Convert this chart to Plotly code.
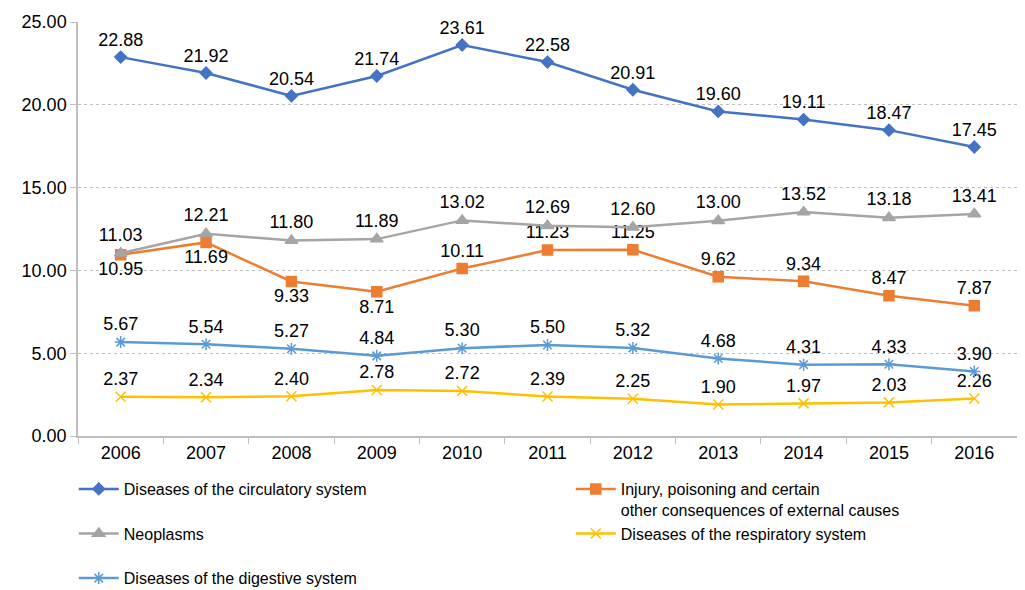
import plotly.graph_objects as go

years = ["2006", "2007", "2008", "2009", "2010", "2011", "2012", "2013", "2014", "2015", "2016"]

circulatory = [22.88, 21.92, 20.54, 21.74, 23.61, 22.58, 20.91, 19.60, 19.11, 18.47, 17.45]
injury = [10.95, 11.69, 9.33, 8.71, 10.11, 11.23, 11.25, 9.62, 9.34, 8.47, 7.87]
neoplasms = [11.03, 12.21, 11.80, 11.89, 13.02, 12.69, 12.60, 13.00, 13.52, 13.18, 13.41]
respiratory = [2.37, 2.34, 2.40, 2.78, 2.72, 2.39, 2.25, 1.90, 1.97, 2.03, 2.26]
digestive = [5.67, 5.54, 5.27, 4.84, 5.30, 5.50, 5.32, 4.68, 4.31, 4.33, 3.90]

injury_pos = ["bottom center"] * 4 + ["top center"] * 7

FONT = "Liberation Sans, Arial, sans-serif"

series = [
    ("Diseases of the circulatory system<br>&nbsp;", circulatory, "#4472C4", "diamond", 9, "top center"),
    ("Injury, poisoning and certain<br>other consequences of external causes", injury, "#ED7D31", "square", 10, injury_pos),
    ("Neoplasms<br>&nbsp;", neoplasms, "#A5A5A5", "triangle-up", 11, "top center"),
    ("Diseases of the respiratory system<br>&nbsp;", respiratory, "#FFC000", "x-thin-open", 10, "top center"),
    ("Diseases of the digestive system<br>&nbsp;", digestive, "#5B9BD5", "asterisk-open", 10, "top center"),
]

fig = go.Figure()
for name, vals, color, symbol, size, pos in series:
    fig.add_trace(go.Scatter(
        x=years, y=vals, name=name,
        mode="lines+markers+text",
        line=dict(color=color, width=2.5),
        marker=dict(symbol=symbol, size=size, color=color, line=dict(color=color, width=1.5)),
        text=[f"{v:.2f}" for v in vals],
        textposition=pos,
        textfont=dict(family=FONT, size=18, color="#000000"),
        cliponaxis=False,
    ))

# the page body adds an 8px offset, so margins are shifted to compensate
fig.update_layout(
    width=1025, height=590,
    margin=dict(l=70, r=16, t=14, b=162, autoexpand=False),
    paper_bgcolor="white", plot_bgcolor="white",
    font=dict(family=FONT, size=18, color="#000000"),
    showlegend=True,
    legend=dict(
        orientation="h", x=-0.0045, y=-0.087, xanchor="left", yanchor="top",
        entrywidth=442, entrywidthmode="pixels", itemwidth=40,
        valign="top", font=dict(family=FONT, size=16),
        traceorder="normal", tracegroupgap=0,
    ),
    xaxis=dict(
        type="category", range=[-0.5, 10.5],
        showline=True, linecolor="#BFBFBF", linewidth=1.5,
        ticks="outside", tickson="boundaries", ticklen=6, tickcolor="#BFBFBF",
        showgrid=False, tickfont=dict(size=18),
    ),
    yaxis=dict(
        range=[0, 25], dtick=5, tickformat=".2f",
        showline=True, linecolor="#BFBFBF", linewidth=1.5,
        ticks="outside", ticklen=6, tickcolor="#BFBFBF",
        showgrid=True, gridcolor="#BFBFBF", griddash="dot", gridwidth=1,
        zeroline=False, tickfont=dict(size=18),
    ),
)

fig.write_html("out.html")
